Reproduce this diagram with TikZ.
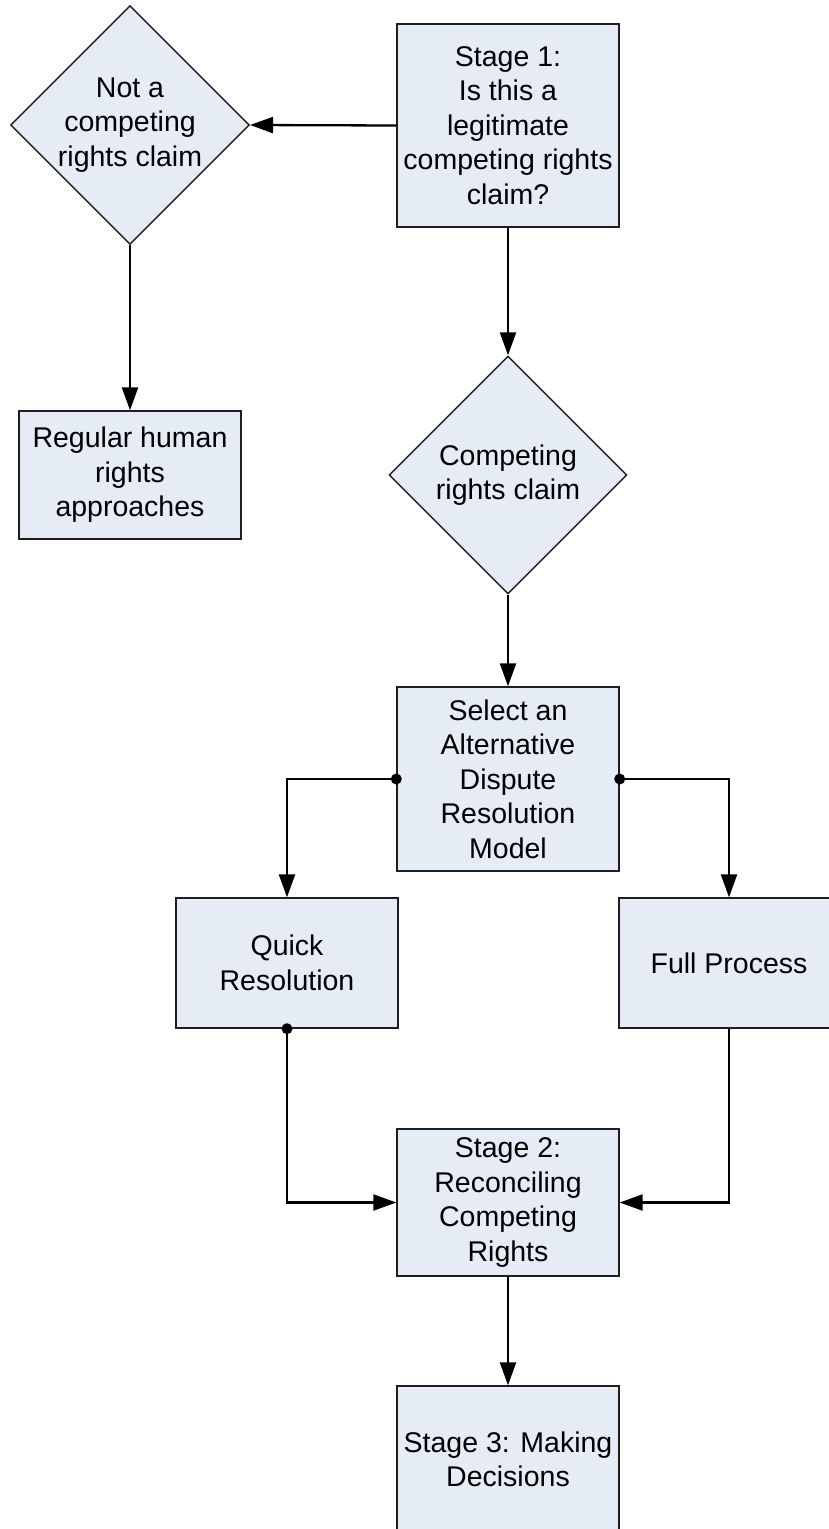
\documentclass[tikz,border=0pt]{standalone}
\usepackage{fontspec}
\setmainfont{Liberation Sans}
\usetikzlibrary{shapes.geometric,arrows.meta}
\definecolor{boxfill}{RGB}{230,236,246}
\definecolor{boxline}{RGB}{30,30,30}
\tikzset{
  base/.style={draw=boxline, line width=1.4pt, fill=boxfill, align=center, inner sep=0pt,
    font=\fontsize{28.5}{34.5}\selectfont},
  procbox/.style={base, rectangle, minimum width=222pt},
  decision/.style={base, diamond, minimum width=238pt, minimum height=238pt},
  conn/.style={line width=2.3pt, -{Triangle[length=23pt,width=16pt]}},
  dotmark/.style={fill=black},
}
\begin{document}
\begin{tikzpicture}[x=1pt,y=-1pt]
\clip (0,0) rectangle (829,1529);
\fill[white] (0,0) rectangle (829,1529);
% nodes
\node[procbox, minimum height=203pt] (s1) at (508,125.5) {Stage 1:\\Is this a\\legitimate\\competing rights\\claim?};
\node[decision] (d1) at (130,125) {Not a\\competing\\rights claim};
\node[procbox, minimum height=128pt] (reg) at (130,475) {Regular human\\rights\\approaches};
\node[decision] (d2) at (508,475) {Competing\\rights claim};
\node[procbox, minimum height=184pt] (sel) at (508,779) {Select an\\Alternative\\Dispute\\Resolution\\Model};
\node[procbox, minimum height=130pt] (quick) at (287,963) {Quick\\Resolution};
\node[procbox, minimum height=130pt, minimum width=220pt] (full) at (729,963) {Full Process};
\node[procbox, minimum height=147pt] (s2) at (508,1202.5) {Stage 2:\\Reconciling\\Competing\\Rights};
\node[procbox, minimum height=147pt] (s3) at (508,1459.5) {Stage 3: Making\\Decisions};
% connectors
\draw[conn] (s1.west) -- (d1.east);
\draw[conn] (d1.south) -- (reg.north);
\draw[conn] (s1.south) -- (d2.north);
\draw[conn] (d2.south) -- (sel.north);
\draw[conn] (sel.west) -| (quick.north);
\draw[conn] (sel.east) -| (full.north);
\draw[conn] (quick.south) |- (s2.west);
\draw[conn] (full.south) |- (s2.east);
\draw[conn] (s2.south) -- (s3.north);
% junction dots
\fill[dotmark] (sel.west) circle (5.5pt);
\fill[dotmark] (sel.east) circle (5.5pt);
\fill[dotmark] (quick.south) circle (5.5pt);
\end{tikzpicture}
\end{document}
